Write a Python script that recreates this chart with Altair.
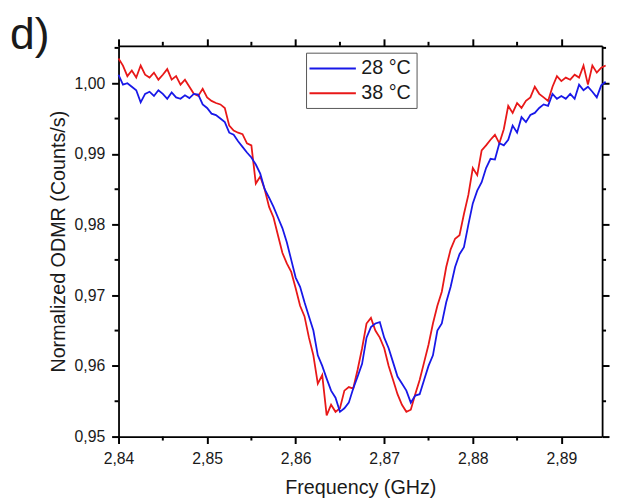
import altair as alt
import pandas as pd

# sampling frequencies (GHz)
freq = [round(2.8400 + 0.0005 * i, 4) for i in range(111)]

odmr_28 = [
    1.0012, 0.9998, 1.0000, 0.9995, 0.9990, 0.9973, 0.9985, 0.9988, 0.9982, 0.9990,
    0.9985, 0.9978, 0.9987, 0.9980, 0.9978, 0.9983, 0.9979, 0.9985, 0.9984, 0.9970,
    0.9965, 0.9957, 0.9955, 0.9950, 0.9945, 0.9930, 0.9927, 0.9918, 0.9910, 0.9902,
    0.9895, 0.9885, 0.9872, 0.9850, 0.9838, 0.9825, 0.9810, 0.9795, 0.9775, 0.9750,
    0.9725, 0.9712, 0.9690, 0.9670, 0.9650, 0.9615, 0.9600, 0.9582, 0.9565, 0.9555,
    0.9535, 0.9540, 0.9548, 0.9568, 0.9585, 0.9603, 0.9640, 0.9655, 0.9660, 0.9662,
    0.9640, 0.9625, 0.9605, 0.9585, 0.9575, 0.9565, 0.9548, 0.9558, 0.9560, 0.9580,
    0.9600, 0.9615, 0.9650, 0.9660, 0.9690, 0.9712, 0.9740, 0.9758, 0.9768, 0.9800,
    0.9830, 0.9848, 0.9860, 0.9880, 0.9893, 0.9892, 0.9915, 0.9912, 0.9920, 0.9940,
    0.9930, 0.9952, 0.9945, 0.9955, 0.9958, 0.9965, 0.9970, 0.9968, 0.9985, 0.9978,
    0.9982, 0.9978, 0.9985, 0.9978, 0.9998, 0.9990, 0.9995, 0.9988, 0.9980, 0.9997,
    1.0002,
]

odmr_38 = [
    1.0035, 1.0025, 1.0010, 1.0018, 1.0008, 1.0025, 1.0012, 1.0008, 1.0015, 1.0005,
    1.0012, 1.0020, 1.0005, 1.0010, 0.9998, 1.0005, 0.9995, 0.9985, 0.9982, 0.9992,
    0.9980, 0.9975, 0.9972, 0.9970, 0.9965, 0.9940, 0.9933, 0.9930, 0.9928, 0.9915,
    0.9912, 0.9858, 0.9868, 0.9850, 0.9825, 0.9810, 0.9785, 0.9760, 0.9745, 0.9733,
    0.9710, 0.9685, 0.9670, 0.9640, 0.9615, 0.9575, 0.9587, 0.9530, 0.9545, 0.9535,
    0.9540, 0.9565, 0.9570, 0.9568, 0.9595, 0.9625, 0.9660, 0.9668, 0.9650, 0.9640,
    0.9625, 0.9600, 0.9580, 0.9560, 0.9545, 0.9535, 0.9538, 0.9560, 0.9580, 0.9605,
    0.9630, 0.9660, 0.9685, 0.9705, 0.9740, 0.9765, 0.9780, 0.9785, 0.9815, 0.9842,
    0.9880, 0.9870, 0.9905, 0.9912, 0.9920, 0.9927, 0.9915, 0.9935, 0.9968, 0.9958,
    0.9972, 0.9965, 0.9975, 0.9980, 0.9995, 0.9985, 0.9980, 0.9975, 0.9995, 1.0010,
    1.0003, 1.0008, 1.0005, 1.0012, 1.0008, 1.0025, 0.9998, 1.0025, 1.0015, 1.0022,
    1.0025,
]

series_names = ["28 °C", "38 °C"]
series_colors = ["#1818e8", "#e81818"]

x_major = [2.84, 2.85, 2.86, 2.87, 2.88, 2.89]
x_minor = [2.845, 2.855, 2.865, 2.875, 2.885]
y_major = [0.95, 0.96, 0.97, 0.98, 0.99, 1.00]
y_minor = [0.955, 0.965, 0.975, 0.985, 0.995, 1.005]

# red series first so blue is drawn on top
df = pd.DataFrame({
    "freq": freq + freq,
    "odmr": odmr_38 + odmr_28,
    "series": [series_names[1]] * len(freq) + [series_names[0]] * len(freq),
})

FONT = "Liberation Sans"
TXT = "#1a1a1a"
label_expr = "replace(format(datum.value, '.2f'), '.', ',')"

W, H = 490, 396
MINOR = 4

xscale = alt.Scale(domain=[2.84, 2.8946], nice=False, zero=False)
yscale = alt.Scale(domain=[0.95, 1.0053], nice=False, zero=False)

common_axis = dict(
    grid=False,
    domainColor="black",
    domainWidth=1.8,
    ticks=True,
    tickColor="black",
    tickWidth=2,
    tickSize=7,
    labelFont=FONT,
    labelFontSize=16,
    labelColor=TXT,
    labelPadding=7,
    labelOverlap=False,
    labelFlush=False,
    titleFont=FONT,
    titleFontSize=20,
    titleFontWeight="normal",
    titleColor=TXT,
)

lines = alt.Chart(df).mark_line(strokeWidth=1.8).encode(
    x=alt.X(
        "freq:Q",
        scale=xscale,
        axis=alt.Axis(
            orient="bottom",
            values=x_major,
            labelExpr=label_expr,
            title="Frequency (GHz)",
            titlePadding=12,
            **common_axis,
        ),
    ),
    y=alt.Y(
        "odmr:Q",
        scale=yscale,
        axis=alt.Axis(
            orient="left",
            values=y_major,
            labelExpr=label_expr,
            title="Normalized ODMR (Counts/s)",
            titlePadding=6,
            **common_axis,
        ),
    ),
    color=alt.Color(
        "series:N",
        scale=alt.Scale(domain=series_names, range=series_colors),
        legend=alt.Legend(
            title=None,
            orient="none",
            legendX=190,
            legendY=7,
            direction="vertical",
            symbolType="M-2.35,0H2.35",
            symbolSize=400,
            symbolStrokeWidth=2,
            symbolOffset=11,
            labelFont=FONT,
            labelFontSize=20,
            labelColor=TXT,
            labelOffset=18,
            rowPadding=4,
            padding=5,
            strokeColor="#555555",
            fillColor="white",
            cornerRadius=0,
        ),
    ),
)

mirror = alt.Chart(df).mark_line(opacity=0).encode(
    x=alt.X(
        "freq:Q",
        scale=xscale,
        axis=alt.Axis(orient="top", values=x_major, labels=False, title=None, **common_axis),
    ),
    y=alt.Y(
        "odmr:Q",
        scale=yscale,
        axis=alt.Axis(orient="right", values=y_major, labels=False, title=None, **common_axis),
    ),
    detail="series:N",
)

# minor ticks (shorter), on all four sides
xminor_df = pd.DataFrame({"v": x_minor})
yminor_df = pd.DataFrame({"v": y_minor})
rule_style = dict(color="black", strokeWidth=2)
minor_bottom = alt.Chart(xminor_df).mark_rule(**rule_style).encode(
    x=alt.X("v:Q", scale=xscale, axis=None), y=alt.value(H), y2=alt.value(H + MINOR))
minor_top = alt.Chart(xminor_df).mark_rule(**rule_style).encode(
    x=alt.X("v:Q", scale=xscale, axis=None), y=alt.value(0), y2=alt.value(-MINOR))
minor_left = alt.Chart(yminor_df).mark_rule(**rule_style).encode(
    y=alt.Y("v:Q", scale=yscale, axis=None), x=alt.value(0), x2=alt.value(-MINOR))
minor_right = alt.Chart(yminor_df).mark_rule(**rule_style).encode(
    y=alt.Y("v:Q", scale=yscale, axis=None), x=alt.value(W), x2=alt.value(W + MINOR))

panel_label = alt.Chart(pd.DataFrame({"label": ["d)"]})).mark_text(
    font=FONT, fontSize=45, color=TXT, align="left", baseline="alphabetic"
).encode(text="label:N", x=alt.value(-110), y=alt.value(3))

chart = (
    alt.layer(lines, mirror, minor_bottom, minor_top, minor_left, minor_right, panel_label)
    .resolve_axis(x="independent", y="independent")
    .properties(
        width=W,
        height=H,
        autosize=alt.AutoSizeParams(type="pad"),
        padding={"left": 2, "top": 2, "right": 0, "bottom": 0},
    )
)

chart.save("out.html", embed_options={"renderer": "svg", "actions": False})
